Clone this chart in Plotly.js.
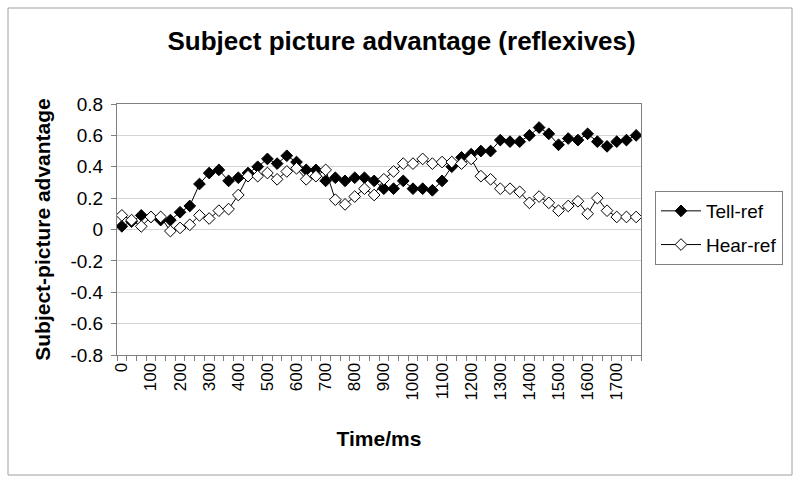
<!DOCTYPE html>
<html>
<head>
<meta charset="utf-8">
<script src="https://cdn.plot.ly/plotly-3.0.1.min.js"></script>
<style>
html,body{margin:0;padding:0;background:#fff;}
#chart{width:800px;height:483px;}
</style>
</head>
<body>
<div id="chart"></div>
<script>
const times = [0,33,67,100,133,167,200,233,267,300,333,367,400,433,467,500,533,567,600,633,667,700,733,767,800,833,867,900,933,967,1000,1033,1067,1100,1133,1167,1200,1233,1267,1300,1333,1367,1400,1433,1467,1500,1533,1567,1600,1633,1667,1700,1733,1767];
const tellRef = [0.02,0.05,0.09,0.08,0.06,0.06,0.11,0.15,0.29,0.36,0.38,0.31,0.33,0.36,0.40,0.45,0.42,0.47,0.43,0.38,0.38,0.31,0.33,0.31,0.33,0.33,0.31,0.26,0.26,0.31,0.26,0.26,0.25,0.31,0.40,0.46,0.48,0.50,0.50,0.57,0.56,0.56,0.60,0.65,0.61,0.54,0.58,0.57,0.61,0.56,0.53,0.56,0.57,0.60];
const hearRef = [0.09,0.06,0.02,0.08,0.08,-0.01,0.01,0.03,0.09,0.07,0.12,0.13,0.22,0.34,0.34,0.36,0.32,0.37,0.39,0.32,0.34,0.38,0.19,0.16,0.21,0.26,0.22,0.32,0.37,0.42,0.42,0.45,0.42,0.43,0.43,0.42,0.45,0.34,0.32,0.26,0.26,0.24,0.17,0.21,0.17,0.12,0.15,0.18,0.10,0.20,0.12,0.08,0.08,0.08];
const yTicks = [-0.8,-0.6,-0.4,-0.2,0,0.2,0.4,0.6,0.8];
const yTickText = ["-0.8","-0.6","-0.4","-0.2","0","0.2","0.4","0.6","0.8"];

const cats = times.map(String);
const xLabels = times.map(t => (t % 100 === 0 ? String(t) : ""));

const FONT = "Liberation Sans, Arial, sans-serif";

const traces = [
  {
    x: cats, y: tellRef, name: "Tell-ref", type: "scatter", mode: "lines+markers",
    legendgroup: "a",
    line: {color: "#000", width: 1},
    marker: {symbol: "diamond", size: 9, color: "#000", line: {color: "#000", width: 1}}
  },
  {
    x: cats, y: hearRef, name: "Hear-ref", type: "scatter", mode: "lines+markers",
    legendgroup: "b",
    line: {color: "#000", width: 1},
    marker: {symbol: "diamond", size: 9, color: "#fff", line: {color: "#000", width: 1}}
  }
];

const L = 117, R = 641, T = 104, B = 355, W = 800, H = 483;
const pw = R - L, ph = B - T;
function px(x){ return (x - L) / pw; }
function py(y){ return (B - y) / ph; }

const layout = {
  width: W, height: H,
  margin: {l: L, r: W - R, t: T, b: H - B, pad: 0},
  paper_bgcolor: "#fff", plot_bgcolor: "#fff",
  font: {family: FONT, size: 18, color: "#000"},
  title: {
    text: "<b>Subject picture advantage (reflexives)</b>",
    font: {family: FONT, size: 26, color: "#000"},
    xref: "container", x: 0.502, xanchor: "center",
    yref: "container", y: 1 - 41 / H, yanchor: "middle"
  },
  xaxis: {
    type: "category",
    categoryorder: "array", categoryarray: cats,
    tickmode: "array", tickvals: cats, ticktext: xLabels,
    tickson: "boundaries",
    ticks: "outside", ticklen: 5, tickcolor: "#808080", tickwidth: 1,
    tickangle: -90,
    tickfont: {family: FONT, size: 17, color: "#000"},
    showgrid: false, zeroline: false,
    showline: true, linecolor: "#808080", linewidth: 1, mirror: true,
    range: [-0.5, times.length - 0.5],
    title: {text: "<b>Time/ms</b>", font: {family: FONT, size: 21, color: "#000"}, standoff: 31}
  },
  yaxis: {
    range: [-0.8, 0.8],
    tickmode: "array", tickvals: yTicks, ticktext: yTickText,
    ticks: "outside", ticklen: 5, tickcolor: "#808080", tickwidth: 1,
    ticklabelstandoff: 4,
    tickfont: {family: FONT, size: 19, color: "#000"},
    showgrid: true, gridcolor: "#d4d4d4", gridwidth: 1,
    zeroline: false,
    showline: true, linecolor: "#808080", linewidth: 1, mirror: true,
    title: {text: "<b>Subject-picture advantage</b>", font: {family: FONT, size: 21, color: "#000"}, standoff: 14}
  },
  showlegend: true,
  legend: {
    x: px(655), xanchor: "left", y: py(191), yanchor: "top",
    bordercolor: "#808080", borderwidth: 1, bgcolor: "#fff",
    font: {family: FONT, size: 19, color: "#000"},
    traceorder: "grouped", tracegroupgap: 6, itemwidth: 40
  },
  shapes: [
    {type: "rect", xref: "paper", yref: "paper",
     x0: px(8), x1: px(792), y0: py(475), y1: py(8),
     line: {color: "#a0a0a0", width: 1}, fillcolor: "rgba(0,0,0,0)", layer: "below"}
  ]
};

Plotly.newPlot("chart", traces, layout, {staticPlot: true, displayModeBar: false});
</script>
</body>
</html>
